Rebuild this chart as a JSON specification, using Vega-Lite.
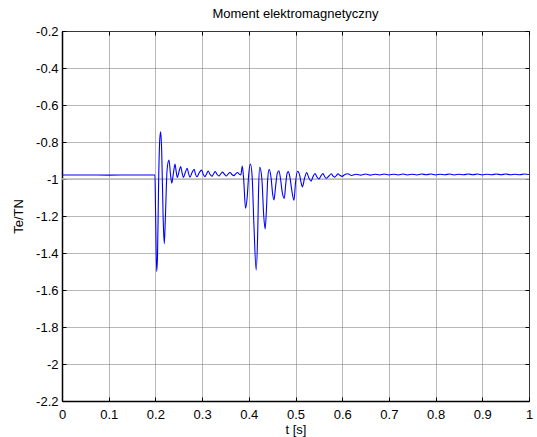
{
  "$schema": "https://vega.github.io/schema/vega-lite/v6.json",
  "width": 467,
  "height": 370,
  "autosize": {"type": "none"},
  "padding": {"left": 62, "top": 31, "right": 8, "bottom": 36},
  "background": "white",
  "config": {
    "font": "Liberation Sans",
    "view": {"stroke": "black", "strokeWidth": 1},
    "axis": {
      "labelFont": "Liberation Sans",
      "titleFont": "Liberation Sans",
      "labelFontSize": 13,
      "titleFontSize": 13,
      "titleFontWeight": "normal",
      "labelColor": "black",
      "titleColor": "black",
      "domainColor": "black",
      "domainWidth": 1.5,
      "tickColor": "black",
      "tickSize": -4,
      "gridColor": "#707070",
      "gridDash": [1, 1],
      "gridOpacity": 1,
      "gridWidth": 1
    },
    "title": {"font": "Liberation Sans", "fontSize": 13, "fontWeight": "normal", "color": "black"}
  },
  "title": {"text": "Moment elektromagnetyczny", "offset": 4},
  "resolve": {"axis": {"x": "independent", "y": "independent"}},
  "datasets": {
    "ref": [{"t": 0, "v": -1}, {"t": 1, "v": -1}],
    "sig": [
      {"t": 0, "v": -0.978}, {"t": 0.05, "v": -0.978}, {"t": 0.1, "v": -0.979}, {"t": 0.15, "v": -0.978}, {"t": 0.199, "v": -0.978},
      {"t": 0.2005, "v": -1.2}, {"t": 0.2027, "v": -1.5}, {"t": 0.2045, "v": -1.42}, {"t": 0.207, "v": -1.0}, {"t": 0.2095, "v": -0.78},
      {"t": 0.2113, "v": -0.745}, {"t": 0.2135, "v": -0.85}, {"t": 0.2165, "v": -1.2}, {"t": 0.219, "v": -1.35}, {"t": 0.2215, "v": -1.2},
      {"t": 0.225, "v": -0.95}, {"t": 0.229, "v": -0.897}, {"t": 0.2325, "v": -0.98}, {"t": 0.235, "v": -1.023}, {"t": 0.2385, "v": -0.97},
      {"t": 0.242, "v": -0.919}, {"t": 0.2445, "v": -0.96}, {"t": 0.247, "v": -0.991}, {"t": 0.2505, "v": -0.96}, {"t": 0.254, "v": -0.933},
      {"t": 0.257, "v": -0.965}, {"t": 0.26, "v": -0.991}, {"t": 0.264, "v": -0.965}, {"t": 0.268, "v": -0.942}, {"t": 0.271, "v": -0.97},
      {"t": 0.274, "v": -0.99}, {"t": 0.2785, "v": -0.965}, {"t": 0.283, "v": -0.948}, {"t": 0.286, "v": -0.975}, {"t": 0.289, "v": -0.988},
      {"t": 0.294, "v": -0.965}, {"t": 0.299, "v": -0.952}, {"t": 0.3025, "v": -0.975}, {"t": 0.306, "v": -0.987}, {"t": 0.31, "v": -0.97},
      {"t": 0.313, "v": -0.957}, {"t": 0.317, "v": -0.975}, {"t": 0.321, "v": -0.985}, {"t": 0.325, "v": -0.97}, {"t": 0.328, "v": -0.96},
      {"t": 0.332, "v": -0.975}, {"t": 0.336, "v": -0.984}, {"t": 0.34, "v": -0.972}, {"t": 0.344, "v": -0.963}, {"t": 0.348, "v": -0.975},
      {"t": 0.352, "v": -0.984}, {"t": 0.356, "v": -0.972}, {"t": 0.36, "v": -0.965}, {"t": 0.364, "v": -0.976}, {"t": 0.368, "v": -0.982},
      {"t": 0.372, "v": -0.972}, {"t": 0.376, "v": -0.965}, {"t": 0.38, "v": -0.975}, {"t": 0.383, "v": -0.978}, {"t": 0.386, "v": -0.93},
      {"t": 0.389, "v": -1.0}, {"t": 0.393, "v": -1.158}, {"t": 0.3965, "v": -1.1}, {"t": 0.4, "v": -0.97}, {"t": 0.4035, "v": -0.919},
      {"t": 0.407, "v": -0.98}, {"t": 0.411, "v": -1.25}, {"t": 0.4158, "v": -1.492}, {"t": 0.419, "v": -1.3}, {"t": 0.421, "v": -1.05},
      {"t": 0.4235, "v": -0.937}, {"t": 0.428, "v": -1.0}, {"t": 0.432, "v": -1.2}, {"t": 0.435, "v": -1.27}, {"t": 0.438, "v": -1.15},
      {"t": 0.4405, "v": -1.0}, {"t": 0.4435, "v": -0.948}, {"t": 0.448, "v": -1.0}, {"t": 0.451, "v": -1.08}, {"t": 0.454, "v": -1.113},
      {"t": 0.457, "v": -1.05}, {"t": 0.461, "v": -0.97}, {"t": 0.4645, "v": -0.955}, {"t": 0.468, "v": -1.0}, {"t": 0.4715, "v": -1.07},
      {"t": 0.476, "v": -1.105}, {"t": 0.479, "v": -1.03}, {"t": 0.482, "v": -0.97}, {"t": 0.4846, "v": -0.96}, {"t": 0.488, "v": -0.99},
      {"t": 0.492, "v": -1.06}, {"t": 0.4968, "v": -1.115}, {"t": 0.5, "v": -1.02}, {"t": 0.5043, "v": -0.958}, {"t": 0.509, "v": -0.98},
      {"t": 0.512, "v": -1.02}, {"t": 0.515, "v": -1.042}, {"t": 0.519, "v": -1.0}, {"t": 0.524, "v": -0.965}, {"t": 0.528, "v": -0.99},
      {"t": 0.5335, "v": -1.012}, {"t": 0.537, "v": -0.99}, {"t": 0.5418, "v": -0.97}, {"t": 0.545, "v": -0.985}, {"t": 0.55, "v": -1.0},
      {"t": 0.554, "v": -0.985}, {"t": 0.5589, "v": -0.97}, {"t": 0.562, "v": -0.985}, {"t": 0.566, "v": -0.996}, {"t": 0.571, "v": -0.985},
      {"t": 0.5768, "v": -0.972}, {"t": 0.58, "v": -0.983}, {"t": 0.5839, "v": -0.99}, {"t": 0.588, "v": -0.98}, {"t": 0.591, "v": -0.972},
      {"t": 0.595, "v": -0.98}, {"t": 0.6, "v": -0.986}, {"t": 0.605, "v": -0.977}, {"t": 0.612, "v": -0.972}, {"t": 0.62, "v": -0.981},
      {"t": 0.63, "v": -0.974}, {"t": 0.64, "v": -0.979}, {"t": 0.65, "v": -0.973}, {"t": 0.66, "v": -0.979}, {"t": 0.67, "v": -0.974},
      {"t": 0.68, "v": -0.978}, {"t": 0.69, "v": -0.973}, {"t": 0.7, "v": -0.978}, {"t": 0.71, "v": -0.974}, {"t": 0.72, "v": -0.978},
      {"t": 0.73, "v": -0.973}, {"t": 0.74, "v": -0.978}, {"t": 0.75, "v": -0.974}, {"t": 0.76, "v": -0.978}, {"t": 0.77, "v": -0.973},
      {"t": 0.78, "v": -0.977}, {"t": 0.79, "v": -0.973}, {"t": 0.8, "v": -0.978}, {"t": 0.81, "v": -0.974}, {"t": 0.82, "v": -0.977},
      {"t": 0.83, "v": -0.973}, {"t": 0.84, "v": -0.978}, {"t": 0.85, "v": -0.974}, {"t": 0.86, "v": -0.977}, {"t": 0.87, "v": -0.973},
      {"t": 0.88, "v": -0.977}, {"t": 0.89, "v": -0.973}, {"t": 0.9, "v": -0.978}, {"t": 0.91, "v": -0.974}, {"t": 0.92, "v": -0.977},
      {"t": 0.93, "v": -0.973}, {"t": 0.94, "v": -0.977}, {"t": 0.95, "v": -0.973}, {"t": 0.96, "v": -0.977}, {"t": 0.97, "v": -0.974},
      {"t": 0.98, "v": -0.977}, {"t": 0.99, "v": -0.973}, {"t": 1.0, "v": -0.976}
    ]
  },
  "layer": [
    {
      "data": {"name": "ref"},
      "mark": {"type": "line", "color": "#bdbdbd", "strokeWidth": 1.5},
      "encoding": {
        "x": {
          "field": "t", "type": "quantitative",
          "scale": {"domain": [0, 1], "nice": false, "zero": false},
          "axis": {"orient": "top", "title": null, "labels": false, "grid": false, "domain": false, "values": [0, 0.1, 0.2, 0.3, 0.4, 0.5, 0.6, 0.7, 0.8, 0.9, 1]}
        },
        "y": {
          "field": "v", "type": "quantitative",
          "scale": {"domain": [-2.2, -0.2], "nice": false, "zero": false},
          "axis": {"orient": "right", "title": null, "labels": false, "grid": false, "domain": false, "values": [-2.2, -2, -1.8, -1.6, -1.4, -1.2, -1, -0.8, -0.6, -0.4, -0.2]}
        }
      }
    },
    {
      "data": {"name": "sig"},
      "mark": {"type": "line", "color": "#0000ff", "strokeWidth": 1.1, "interpolate": "monotone", "clip": true},
      "encoding": {
        "x": {
          "field": "t", "type": "quantitative",
          "scale": {"domain": [0, 1], "nice": false, "zero": false},
          "axis": {"orient": "bottom", "title": "t [s]", "labelExpr": "toString(datum.value)", "grid": true, "values": [0, 0.1, 0.2, 0.3, 0.4, 0.5, 0.6, 0.7, 0.8, 0.9, 1], "labelPadding": 11, "titlePadding": 2, "labelFlush": false, "labelOverlap": false}
        },
        "y": {
          "field": "v", "type": "quantitative",
          "scale": {"domain": [-2.2, -0.2], "nice": false, "zero": false},
          "axis": {"orient": "left", "title": "Te/TN", "labelExpr": "toString(datum.value)", "grid": true, "values": [-2.2, -2, -1.8, -1.6, -1.4, -1.2, -1, -0.8, -0.6, -0.4, -0.2], "labelPadding": 8, "titlePadding": 10, "labelFlush": false, "labelOverlap": false}
        }
      }
    }
  ]
}
